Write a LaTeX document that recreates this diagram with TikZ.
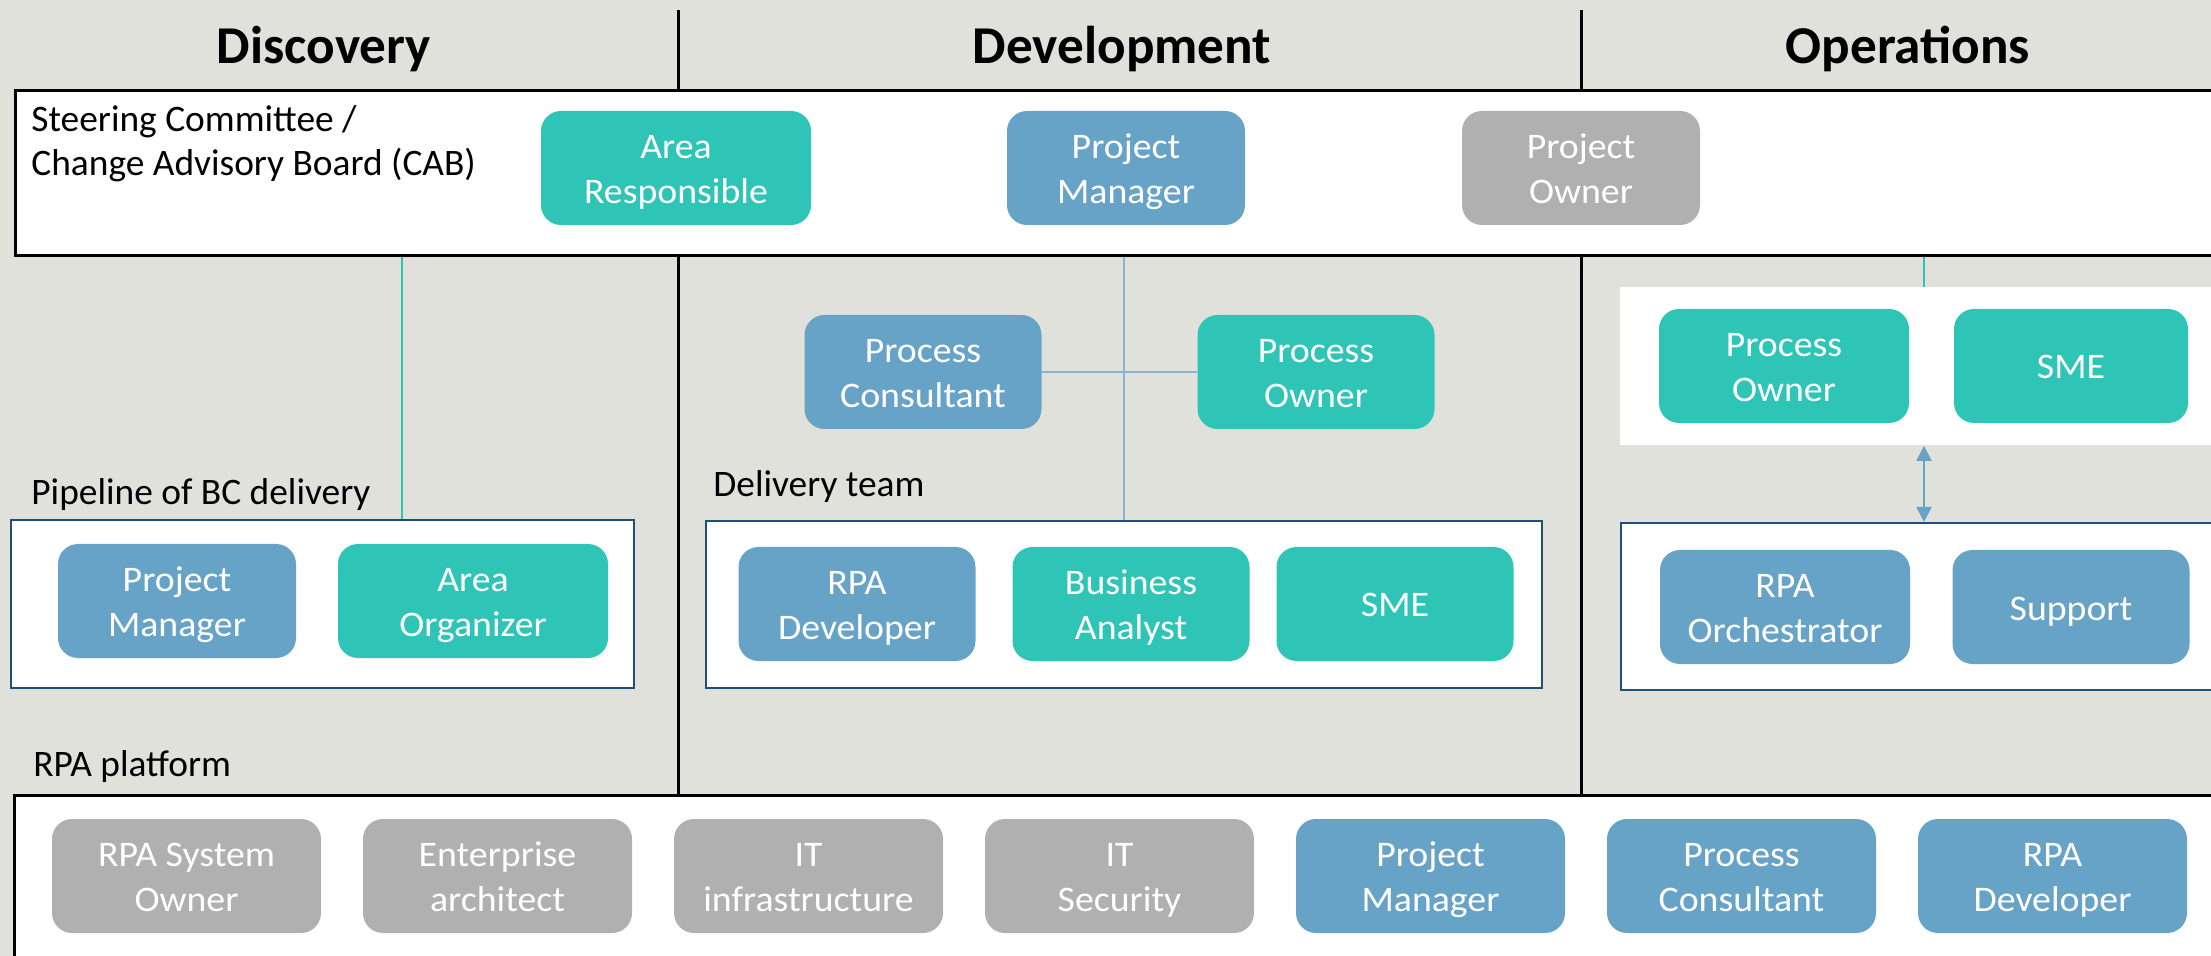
\documentclass[tikz,border=0pt]{standalone}
\usepackage{fontspec}
\setmainfont{Carlito}
\newfontfamily\rolefam[FakeStretch=1.05]{Carlito}
\usetikzlibrary{arrows.meta}
\definecolor{bgc}{HTML}{E1E1DC}
\definecolor{tealc}{HTML}{2EC4B6}
\definecolor{bluec}{HTML}{67A3C6}
\definecolor{grayc}{HTML}{B0B0B0}
\definecolor{navyc}{HTML}{1F4E79}
\definecolor{linec}{HTML}{8DB3CF}
\newcommand\rolefont{\rolefam\fontsize{18}{22.5}\selectfont}
\newcommand\labfont{\fontsize{18.7}{22}\selectfont}
\newcommand\headfont{\fontsize{26.6}{30}\selectfont\bfseries}
\newcommand\rs{\rule[-4.75pt]{0pt}{22.5pt}}
\tikzset{
  role/.style={rounded corners=10pt, text=white, align=center, inner sep=0pt,
    minimum height=57pt, font=\rolefont},
  tb/.style={role, fill=tealc},
  bb/.style={role, fill=bluec},
  gb/.style={role, fill=grayc},
  panel/.style={anchor=north west, fill=white, inner sep=0pt},
  blackpanel/.style={panel, draw=black, line width=1.5pt},
  navypanel/.style={panel, draw=navyc, line width=1pt},
  colline/.style={black, line width=1.5pt},
  lab/.style={font=\labfont, inner sep=0pt, text=black},
  head/.style={font=\headfont, inner sep=0pt, anchor=base},
  tealline/.style={tealc, line width=0.75pt},
  blueline/.style={linec, line width=0.75pt},
}
\begin{document}
\begin{tikzpicture}[x=0.5pt,y=-0.5pt]
\useasboundingbox (0,0) rectangle (2211,956);
\fill[bgc] (0,0) rectangle (2211,956);
\clip (0,0) rectangle (2211,956);

% column separators
\draw[colline] (678,10) -- (678,794);
\draw[colline] (1581,10) -- (1581,794);

% headers
\node[head] (hdisc) at (324,64) {Discovery};
\node[head] (hdev) at (1122,64) {Development};
\node[head] (hops) at (1908,64) {Operations};

% panels
\node[blackpanel, minimum width=1113pt, minimum height=82.5pt] (steer) at (14,89) {};
\node[navypanel, minimum width=311.5pt, minimum height=84pt] (pipe) at (10,519) {};
\node[navypanel, minimum width=418pt, minimum height=83.5pt] (deliv) at (705,520) {};
\node[panel, minimum width=310pt, minimum height=79pt] (opsw) at (1620,287) {};
\node[navypanel, minimum width=310pt, minimum height=83.5pt] (ops) at (1620,522) {};
\node[blackpanel, minimum width=1110pt, minimum height=100pt] (plat) at (13,794) {};

% labels
\node[lab, anchor=north west, align=left] (lsteer) at (31,101) {\rule{0pt}{15pt}Steering Committee /\\Change Advisory Board (CAB)};
\node[lab, anchor=base west] (lpipe) at (31,505) {Pipeline of BC delivery};
\node[lab, anchor=base west] (ldeliv) at (713,497) {Delivery team};
\node[lab, anchor=base west] (lplat) at (33,776) {RPA platform};

% steering committee roles
\node[tb, minimum width=135pt] (sar) at (676,168) {\rs Area\\Responsible\rs};
\node[bb, minimum width=119pt] (spm) at (1126,168) {\rs Project\\Manager\rs};
\node[gb, minimum width=119pt] (spo) at (1581,168) {\rs Project\\Owner\rs};

% discovery
\node[bb, minimum width=119pt] (dpm) at (177,601) {\rs Project\\Manager\rs};
\node[tb, minimum width=135pt] (dao) at (473,601) {\rs Area\\Organizer\rs};

% development
\node[bb, minimum width=118.5pt] (dpc) at (923,372) {\rs Process\\Consultant\rs};
\node[tb, minimum width=118.5pt] (dpo) at (1316,372) {\rs Process\\Owner\rs};
\node[bb, minimum width=118.5pt] (drd) at (857,604) {\rs RPA\\Developer\rs};
\node[tb, minimum width=118.5pt] (dba) at (1131,604) {\rs Business\\Analyst\rs};
\node[tb, minimum width=118.5pt] (dsme) at (1395,604) {\rs SME\rs};

% operations
\node[tb, minimum width=125pt] (opo) at (1784,366) {\rs Process\\Owner\rs};
\node[tb, minimum width=117pt] (osme) at (2071,366) {\rs SME\rs};
\node[bb, minimum width=125pt] (oro) at (1785,607) {\rs RPA\\Orchestrator\rs};
\node[bb, minimum width=118.5pt] (osup) at (2071,607) {\rs Support\rs};

% RPA platform
\node[gb, minimum width=134.5pt] (p1) at (186.5,876) {\rs RPA System\\Owner\rs};
\node[gb, minimum width=134.5pt] (p2) at (497.5,876) {\rs Enterprise\\architect\rs};
\node[gb, minimum width=134.5pt] (p3) at (808.5,876) {\rs IT\\infrastructure\rs};
\node[gb, minimum width=134.5pt] (p4) at (1119.5,876) {\rs IT\\Security\rs};
\node[bb, minimum width=134.5pt] (p5) at (1430.5,876) {\rs Project\\Manager\rs};
\node[bb, minimum width=134.5pt] (p6) at (1741.5,876) {\rs Process\\Consultant\rs};
\node[bb, minimum width=134.5pt] (p7) at (2052.5,876) {\rs RPA\\Developer\rs};

% connectors
\coordinate (cd) at (402,0);
\coordinate (co) at (1924,0);
\draw[tealline] (steer.south -| cd) -- (pipe.north -| cd);
\draw[blueline] (steer.south -| deliv.north) -- (deliv.north);
\draw[blueline] (dpc.east) -- (dpo.west);
\draw[tealline] (steer.south -| co) -- (opsw.north -| co);
\draw[bluec, line width=1pt, {Triangle[length=7.5pt,width=7.5pt]}-{Triangle[length=7.5pt,width=7.5pt]}]
  (opsw.south -| co) -- (ops.north -| co);
\end{tikzpicture}
\end{document}
